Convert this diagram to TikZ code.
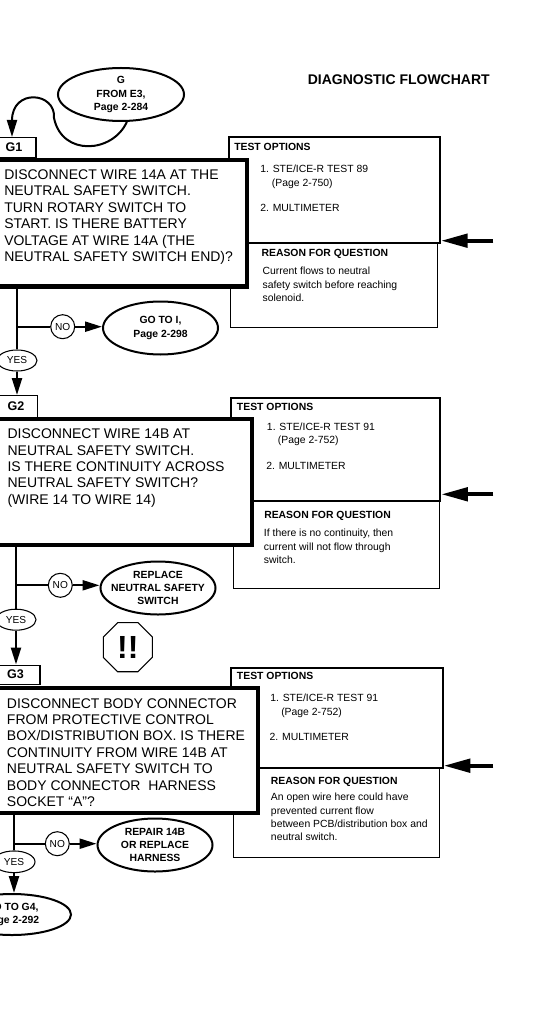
\documentclass[tikz,border=0pt]{standalone}
\usepackage{fontspec}
\setmainfont{Liberation Sans}
\usetikzlibrary{arrows.meta,shapes.geometric}
\tikzset{
	boxsize/.style 2 args = {minimum width=#1*.75pt,minimum height=#2*.75pt},
	tabbox/.style = {draw,line width=.8pt,fill=white,anchor=north,inner sep=0pt,font=\bfseries\fontsize{9.4}{11}\selectfont},
	questionbox/.style = {draw,line width=3pt,fill=white,anchor=north east,inner sep=0pt},
	testbox/.style = {draw,line width=1.5pt,anchor=north west,inner sep=0pt},
	reasonbox/.style = {draw,line width=.8pt,anchor=north west,inner sep=0pt},
	endshape/.style = {draw,ellipse,line width=1.5pt,inner sep=0pt,boxsize={115}{53}},
	yesshape/.style = {draw,ellipse,line width=.8pt,inner sep=0pt,boxsize={40}{21},font=\fontsize{7.6}{9}\selectfont},
	noshape/.style = {draw,circle,line width=.8pt,inner sep=0pt,minimum size=18pt,font=\fontsize{7.6}{9}\selectfont},
	questiontext/.style = {anchor=west,align=left,inner sep=0pt,font=\fontsize{10.5}{12.3}\selectfont},
	endtext/.style = {align=center,inner sep=0pt,font=\bfseries\fontsize{7.8}{9.9}\selectfont},
	notetext/.style = {anchor=base west,align=left,inner sep=0pt,font=\fontsize{7.8}{9.9}\selectfont},
	notehead/.style = {notetext,font=\bfseries\fontsize{7.8}{9.9}\selectfont},
	reasontext/.style = {notetext,anchor=north west},
	flowline/.style = {line width=1.7pt},
	flowarrow/.style = {line width=1.7pt,-{Triangle[length=12.75pt,width=7.5pt]}},
	inarrow/.style = {line width=3pt,-{Triangle[length=20pt,width=10pt]}}
}
\begin{document}
\begin{tikzpicture}[x=.75pt,y=-.75pt]
	\useasboundingbox (0,0) rectangle (537,1012);
	\node[anchor=base east,inner sep=0pt,font=\bfseries\fontsize{10.5}{12}\selectfont] (title) at (490,85) {DIAGNOSTIC FLOWCHART};

	\node[endshape,boxsize={126}{53}] (from) at (121,94.5) {};
	\node[endtext] (fromtext) at (from) {G\\FROM E3,\\Page 2-284};
	\node[tabbox,boxsize={44}{20}] (g1) at (14,137) {G1};
	\coordinate (g1in) at (12,137);
	\node[reasonbox,boxsize={206.7}{85}] (reason1) at (230,241.7) {};
	\node[testbox,boxsize={211.3}{105.4}] (test1) at (227.7,136.3) {};
	\node[questionbox,boxsize={260}{126.5}] (q1) at (249,158) {};
	\node[questiontext] (q1text) at (4,217) {DISCONNECT WIRE 14A AT THE\\NEUTRAL SAFETY SWITCH.\\TURN ROTARY SWITCH TO\\START. IS THERE BATTERY\\VOLTAGE AT WIRE 14A (THE\\NEUTRAL SAFETY SWITCH END)?};
	\node[notehead] (test1head) at (234,151) {TEST OPTIONS};
	\node[notetext] (test1a) at (260,173) {1. STE/ICE-R TEST 89};
	\node[notetext] (test1b) at (271.7,186.3) {(Page 2-750)};
	\node[notetext] (test1c) at (260,212) {2. MULTIMETER};
	\node[notehead] (reason1head) at (261.3,257) {REASON FOR QUESTION};
	\node[reasontext] (reason1text) at (262.3,267) {Current flows to neutral\\safety switch before reaching\\solenoid.};
	\coordinate (in1) at (493.3,240.7);
	\draw[inarrow] (in1) -- (in1 -| test1.east);
	\node[yesshape] (yes1) at (17,360.5) {YES};
	\node[noshape] (no1) at (62.7,326.7) {NO};
	\node[endshape] (end1) at (160.5,328) {};
	\node[endtext] (end1text) at (end1) {GO TO I,\\Page 2-298};
	\draw[flowline] (yes1 |- q1.south) -- (yes1);
	\draw[flowline] (yes1 |- no1) -- (no1);
	\draw[flowarrow] (no1) -- (no1 -| end1.west);

	\node[tabbox,boxsize={43.4}{22}] (g2) at (16,395) {G2};
	\draw[flowarrow] (yes1) -- (yes1 |- g2.north);
	\node[reasonbox,boxsize={206}{87.7}] (reason2) at (232.7,500.3) {};
	\node[testbox,boxsize={209.3}{103.3}] (test2) at (230,397) {};
	\node[questionbox,boxsize={265}{126}] (q2) at (254,417) {};
	\node[questiontext] (q2text) at (7.3,468) {DISCONNECT WIRE 14B AT\\NEUTRAL SAFETY SWITCH.\\IS THERE CONTINUITY ACROSS\\NEUTRAL SAFETY SWITCH?\\(WIRE 14 TO WIRE 14)};
	\node[notehead] (test2head) at (236.7,410.4) {TEST OPTIONS};
	\node[notetext] (test2a) at (266.7,430.4) {1. STE/ICE-R TEST 91};
	\node[notetext] (test2b) at (277.7,443.7) {(Page 2-752)};
	\node[notetext] (test2c) at (266,469) {2. MULTIMETER};
	\node[notehead] (reason2head) at (264,518) {REASON FOR QUESTION};
	\node[reasontext] (reason2text) at (263.7,529) {If there is no continuity, then\\current will not flow through\\switch.};
	\coordinate (in2) at (493.3,494.3);
	\draw[inarrow] (in2) -- (in2 -| test2.east);
	\node[yesshape] (yes2) at (16,619.7) {YES};
	\node[noshape] (no2) at (60.3,585.3) {NO};
	\node[endshape] (end2) at (158,588) {};
	\node[endtext] (end2text) at (end2) {REPLACE\\NEUTRAL SAFETY\\SWITCH};
	\draw[flowline] (yes2 |- q2.south) -- (yes2);
	\draw[flowline] (yes2 |- no2) -- (no2);
	\draw[flowarrow] (no2) -- (no2 -| end2.west);
	\node[draw,regular polygon,regular polygon sides=8,line width=.8pt,inner sep=0pt,minimum size=39.8pt,font=\bfseries\fontsize{24}{24}\selectfont] (stop) at (127.8,647.2) {!!};

	\node[tabbox,boxsize={49}{19}] (g3) at (15.5,664.5) {G3};
	\draw[flowarrow] (yes2) -- (yes2 |- g3.north);
	\node[reasonbox,boxsize={206.3}{90}] (reason3) at (233,767.3) {};
	\node[testbox,boxsize={211.7}{100.3}] (test3) at (230,667) {};
	\node[questionbox,boxsize={270}{125.5}] (q3) at (259.7,685.5) {};
	\node[questiontext] (q3text) at (6.7,752.5) {DISCONNECT BODY CONNECTOR\\FROM PROTECTIVE CONTROL\\BOX/DISTRIBUTION BOX. IS THERE\\CONTINUITY FROM WIRE 14B AT\\NEUTRAL SAFETY SWITCH TO\\BODY CONNECTOR~ HARNESS\\SOCKET “A”?};
	\node[notehead] (test3head) at (236.7,679.7) {TEST OPTIONS};
	\node[notetext] (test3a) at (270,701) {1. STE/ICE-R TEST 91};
	\node[notetext] (test3b) at (281,715) {(Page 2-752)};
	\node[notetext] (test3c) at (269.3,740) {2. MULTIMETER};
	\node[notehead] (reason3head) at (270.7,784.4) {REASON FOR QUESTION};
	\node[reasontext] (reason3text) at (270.7,793) {An open wire here could have\\prevented current flow\\between PCB/distribution box and\\neutral switch.};
	\coordinate (in3) at (493.3,765.7);
	\draw[inarrow] (in3) -- (in3 -| test3.east);
	\node[yesshape,boxsize={42}{21.7}] (yes3) at (14,861.8) {YES};
	\node[noshape] (no3) at (57.3,843.7) {NO};
	\node[endshape] (end3) at (155,845) {};
	\node[endtext] (end3text) at (end3) {REPAIR 14B\\OR REPLACE\\HARNESS};
	\node[endshape,boxsize={118}{41}] (end4) at (12,914.5) {};
	\node[endtext] (end4text) at (end4) {GO TO G4,\\Page 2-292};
	\draw[flowline] (yes3 |- q3.south) -- (yes3);
	\draw[flowline] (yes3 |- no3) -- (no3);
	\draw[flowarrow] (no3) -- (no3 -| end3.west);
	\draw[flowarrow] (yes3) -- (yes3 |- end4.north);

	\coordinate (hook) at (54,118);
	\draw[line width=1.5pt] (from.-78) .. controls (113,153) and (62,157) .. (hook);
	\draw[flowarrow,line width=1.5pt] (hook) .. controls (56,92) and (12,88) .. (g1in);
\end{tikzpicture}
\end{document}
